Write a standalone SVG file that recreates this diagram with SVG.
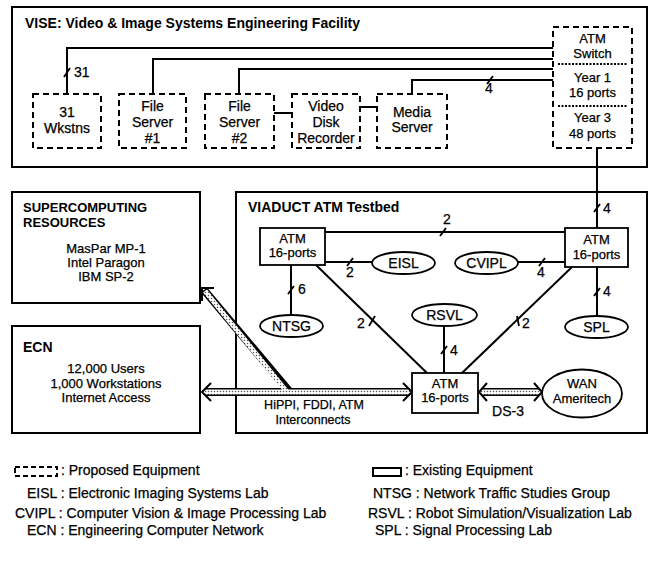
<svg xmlns="http://www.w3.org/2000/svg" width="651" height="572" viewBox="0 0 651 572">
<defs>
<style>
.t{font-family:"Liberation Sans",Arial,Helvetica,sans-serif;font-size:14px;fill:#000;stroke:#000;stroke-width:0.25}
.s{font-size:13px}
.b{font-weight:bold;stroke-width:0}
.m{text-anchor:middle}
.frame{fill:none;stroke:#000;stroke-width:2}
.dash{fill:#fff;stroke:#000;stroke-width:2;stroke-dasharray:6 4}
.dot{fill:none;stroke:#000;stroke-width:2;stroke-dasharray:2 1.5}
.ln{fill:none;stroke:#000;stroke-width:2}
.tk{fill:none;stroke:#000;stroke-width:1.8}
.node{fill:#fff;stroke:#000;stroke-width:1.8}
.bandO{fill:none;stroke:#000;stroke-width:8}
.bandI{fill:none;stroke:url(#dots);stroke-width:5}
.chev{fill:none;stroke:#000;stroke-width:2}
</style>
<pattern id="dots" patternUnits="userSpaceOnUse" width="3" height="3">
<rect width="3" height="3" fill="#fff"/>
<circle cx="1.5" cy="1.5" r="0.75" fill="#555"/>
</pattern>
</defs>
<rect width="651" height="572" fill="#fff"/>

<!-- frames -->
<g id="vise">
<rect class="frame" x="12" y="7" width="635" height="160"/>
<text class="t b" x="25" y="28">VISE: Video &amp; Image Systems Engineering Facility</text>
</g>
<g id="supercomputing">
<rect class="frame" x="12" y="192" width="188" height="111"/>
<text class="t b s" x="23" y="212">SUPERCOMPUTING</text>
<text class="t b s" x="23" y="227">RESOURCES</text>
<text class="t m s" x="106" y="253">MasPar MP-1</text>
<text class="t m s" x="106" y="267">Intel Paragon</text>
<text class="t m s" x="106" y="281">IBM SP-2</text>
</g>
<g id="ecn">
<rect class="frame" x="12" y="326" width="188" height="107"/>
<text class="t b" x="23" y="352">ECN</text>
<text class="t m s" x="106" y="373">12,000 Users</text>
<text class="t m s" x="106" y="388">1,000 Workstations</text>
<text class="t m s" x="106" y="402">Internet Access</text>
</g>
<g id="viaduct">
<rect class="frame" x="236" y="192" width="411" height="241"/>
<text class="t b" x="248" y="212">VIADUCT ATM Testbed</text>
</g>

<!-- connectors -->
<g id="connectors">
<!-- VISE -->
<polyline class="ln" points="67,94 67,48 553,48"/>
<polyline class="ln" points="153,94 153,59 553,59"/>
<polyline class="ln" points="239,94 239,69 553,69"/>
<polyline class="ln" points="412,94 412,80 553,80"/>
<line class="ln" x1="274" y1="113" x2="292" y2="113"/>
<line class="ln" x1="360" y1="107" x2="377" y2="107"/>
<line class="ln" x1="597" y1="148" x2="597" y2="228"/>
<!-- VIADUCT -->
<line class="ln" x1="325" y1="232" x2="565" y2="232"/>
<line class="ln" x1="325" y1="262" x2="372" y2="262"/>
<line class="ln" x1="518" y1="262" x2="565" y2="262"/>
<line class="ln" x1="597" y1="267" x2="597" y2="316"/>
<line class="ln" x1="291" y1="265" x2="291" y2="315"/>
<line class="ln" x1="316" y1="265" x2="427" y2="373"/>
<line class="ln" x1="572" y1="267" x2="462" y2="373"/>
<line class="ln" x1="444" y1="326" x2="444" y2="373"/>
<!-- ticks -->
<line class="tk" x1="64" y1="77" x2="70" y2="68"/>
<line class="tk" x1="487" y1="84" x2="493" y2="76"/>
<line class="tk" x1="594" y1="212" x2="600" y2="204"/>
<line class="tk" x1="440" y1="236" x2="446" y2="228"/>
<line class="tk" x1="347" y1="266" x2="353" y2="258"/>
<line class="tk" x1="539" y1="266" x2="545" y2="258"/>
<line class="tk" x1="594" y1="296" x2="600" y2="288"/>
<line class="tk" x1="288" y1="294" x2="294" y2="286"/>
<line class="tk" x1="441" y1="354" x2="447" y2="346"/>
<line class="tk" x1="369" y1="326" x2="375" y2="316"/>
<line class="tk" x1="517" y1="316" x2="519" y2="326"/>
<!-- labels -->
<text class="t" x="74" y="77">31</text>
<text class="t m" x="489" y="93">4</text>
<text class="t m" x="607" y="213">4</text>
<text class="t m" x="447" y="224">2</text>
<text class="t m" x="350" y="277">2</text>
<text class="t m" x="541" y="277">4</text>
<text class="t m" x="607" y="296">4</text>
<text class="t m" x="302" y="294">6</text>
<text class="t m" x="454" y="355">4</text>
<text class="t m" x="361" y="328">2</text>
<text class="t m" x="526" y="328">2</text>
<!-- hatched bands -->
<line class="bandO" x1="205" y1="392" x2="410" y2="392"/>
<line class="bandO" x1="290" y1="392" x2="204" y2="290"/>
<line class="bandO" x1="481" y1="392" x2="540" y2="392"/>
<line class="bandI" x1="205" y1="392" x2="410" y2="392"/>
<line class="bandI" x1="287" y1="392" x2="205" y2="291"/>
<line class="bandI" x1="481" y1="392" x2="540" y2="392"/>
<polyline class="chev" points="211,383 202,392 211,401"/>
<polyline class="chev" points="403,383 412,392 403,401"/>
<polyline class="chev" points="487,383 479,392 487,401"/>
<polyline class="chev" points="534,383 542,392 534,401"/>
<polyline class="chev" points="214,288 202,288 202,301"/>
<text class="t m" x="314" y="409" style="font-size:12.5px">HiPPI, FDDI, ATM</text>
<text class="t m" x="313" y="424" style="font-size:12.5px">Interconnects</text>
<text class="t m" x="508" y="416">DS-3</text>
</g>

<!-- VISE nodes -->
<g id="wkstns">
<rect class="dash" x="33" y="94" width="68" height="54"/>
<text class="t m" x="67" y="117">31</text>
<text class="t m" x="67" y="133">Wkstns</text>
</g>
<g id="fileserver1">
<rect class="dash" x="119" y="94" width="67" height="54"/>
<text class="t m" x="152.5" y="111">File</text>
<text class="t m" x="152.5" y="127">Server</text>
<text class="t m" x="152.5" y="143">#1</text>
</g>
<g id="fileserver2">
<rect class="dash" x="205" y="94" width="69" height="54"/>
<text class="t m" x="239.5" y="111">File</text>
<text class="t m" x="239.5" y="127">Server</text>
<text class="t m" x="239.5" y="143">#2</text>
</g>
<g id="videodisk">
<rect class="dash" x="292" y="94" width="68" height="54"/>
<text class="t m" x="326" y="111">Video</text>
<text class="t m" x="326" y="127">Disk</text>
<text class="t m" x="326" y="143">Recorder</text>
</g>
<g id="mediaserver">
<rect class="dash" x="377" y="94" width="70" height="54"/>
<text class="t m" x="412" y="117">Media</text>
<text class="t m" x="412" y="132">Server</text>
</g>
<g id="atmswitch">
<rect class="dash" x="553" y="27" width="79" height="121"/>
<line class="dot" x1="558" y1="64" x2="627" y2="64"/>
<line class="dot" x1="558" y1="106" x2="627" y2="106"/>
<text class="t m s" x="592.5" y="43">ATM</text>
<text class="t m s" x="592.5" y="58">Switch</text>
<text class="t m s" x="592.5" y="82">Year 1</text>
<text class="t m s" x="592.5" y="97">16 ports</text>
<text class="t m s" x="592.5" y="122">Year 3</text>
<text class="t m s" x="592.5" y="138">48 ports</text>
</g>

<!-- VIADUCT nodes -->
<g id="atmleft">
<rect class="node" x="260" y="228" width="65" height="37"/>
<text class="t m s" x="292.5" y="243">ATM</text>
<text class="t m s" x="292.5" y="257">16-ports</text>
</g>
<g id="atmright">
<rect class="node" x="565" y="228" width="63" height="39"/>
<text class="t m s" x="596.5" y="244">ATM</text>
<text class="t m s" x="596.5" y="259">16-ports</text>
</g>
<g id="atmbottom">
<rect class="node" x="412" y="373" width="66" height="40"/>
<text class="t m s" x="445" y="388">ATM</text>
<text class="t m s" x="445" y="402">16-ports</text>
</g>
<g id="eisl">
<ellipse class="node" cx="403.5" cy="263" rx="31.5" ry="11"/>
<text class="t m" x="403.5" y="268">EISL</text>
</g>
<g id="cvipl">
<ellipse class="node" cx="486.5" cy="263" rx="31.5" ry="11"/>
<text class="t m" x="486.5" y="268">CVIPL</text>
</g>
<g id="rsvl">
<ellipse class="node" cx="444.5" cy="315" rx="32.5" ry="11"/>
<text class="t m" x="444.5" y="320">RSVL</text>
</g>
<g id="spl">
<ellipse class="node" cx="596.5" cy="327" rx="31.5" ry="11"/>
<text class="t m" x="596.5" y="332">SPL</text>
</g>
<g id="ntsg">
<ellipse class="node" cx="291.5" cy="326" rx="31.5" ry="11"/>
<text class="t m" x="291.5" y="331">NTSG</text>
</g>
<g id="wan">
<ellipse class="node" cx="582" cy="393.5" rx="40" ry="24"/>
<text class="t m s" x="582" y="388">WAN</text>
<text class="t m s" x="582" y="403">Ameritech</text>
</g>

<!-- legend -->
<g id="legend">
<rect class="dash" x="15" y="467" width="42" height="9" style="stroke-dasharray:5 3"/>
<text class="t" x="61" y="475">: Proposed Equipment</text>
<text class="t" x="27" y="498">EISL : Electronic Imaging Systems Lab</text>
<text class="t" x="15" y="518">CVIPL : Computer Vision &amp; Image Processing Lab</text>
<text class="t" x="27" y="535">ECN : Engineering Computer Network</text>
<rect x="373" y="468" width="28" height="8" fill="#fff" stroke="#000" stroke-width="2"/>
<text class="t" x="405" y="475">: Existing Equipment</text>
<text class="t" x="373" y="498">NTSG :  Network Traffic Studies Group</text>
<text class="t" x="368" y="518">RSVL : Robot Simulation/Visualization Lab</text>
<text class="t" x="375" y="535">SPL :  Signal Processing Lab</text>
</g>
</svg>
